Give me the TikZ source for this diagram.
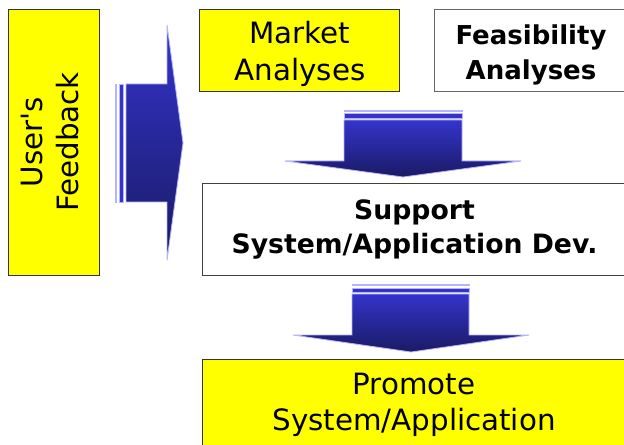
\documentclass[tikz,border=0pt]{standalone}
\usepackage{fontspec}
\setmainfont{DejaVu Sans}
\definecolor{boxyellow}{RGB}{255,255,0}
\definecolor{arrowtop}{RGB}{52,52,204}
\definecolor{arrowbot}{RGB}{26,26,100}
\definecolor{arrowrim}{RGB}{180,180,255}

\begin{document}
\begin{tikzpicture}[x=0.75pt,y=-0.75pt,
    yellowbox/.style={draw=black!80,fill=boxyellow,line width=0.75pt,inner sep=0pt,
      align=center,font=\fontsize{22}{27.5}\selectfont},
    whitebox/.style={draw=black!60,fill=white,line width=0.75pt,inner sep=0pt,
      align=center,font=\fontsize{20}{26}\selectfont\bfseries},
    blockarrow/.style={top color=arrowtop,bottom color=arrowbot,draw=arrowrim,line width=0.6pt},
    stripe/.style={fill=arrowtop,draw=arrowrim,line width=0.6pt}]
    \clip (0,0) rectangle (624,445);
    \fill[white] (0,0) rectangle (624,445);
    \node[yellowbox,minimum width=91*0.75pt,minimum height=265*0.75pt] (feedback) at (53.5,142.5) {};
    \node[rotate=90,align=center,font=\fontsize{22}{26.5}\selectfont] (feedbacktext) at (50,142) {User\textquotesingle s\\Feedback};
    \node[yellowbox,minimum width=200*0.75pt,minimum height=82*0.75pt] (market) at (299.5,51) {};
    \node[align=center,font=\fontsize{22}{27.5}\selectfont] (markettext) at (300,54) {Market\\Analyses};
    \node[whitebox,minimum width=194*0.75pt,minimum height=82*0.75pt] (feasible) at (531,51) {};
    \node[align=center,font=\fontsize{19.5}{26}\selectfont\bfseries] (feasibletext) at (531,55) {Feasibility\\Analyses};
    \node[whitebox,draw=black!75,minimum width=425*0.75pt,minimum height=91*0.75pt] (support) at (414.5,229.5) {Support\\System/Application Dev.};
    \node[yellowbox,minimum width=424*0.75pt,minimum height=87*0.75pt] (promote) at (414,402.5) {};
    \node[align=center,font=\fontsize{22}{27}\selectfont] (promotetext) at (414,404.5) {Promote\\System/Application};
    \draw[stripe] (115,84) rectangle (116.5,202);
    \draw[stripe] (119,84) rectangle (123,202);
    \draw[blockarrow] (126,84) -- (167,84) -- (167,25) -- (183,143) -- (167,260) -- (167,202) -- (126,202) -- cycle;
    \draw[stripe] (344,110) rectangle (462,111.5);
    \draw[stripe] (344,113) rectangle (462,118);
    \draw[blockarrow] (344,120) -- (462,120) -- (462,161) -- (521,161) -- (403,177) -- (285,161) -- (344,161) -- cycle;
    \draw[stripe] (352,284) rectangle (469,285.5);
    \draw[stripe] (352,288) rectangle (469,292);
    \draw[blockarrow] (352,294) -- (469,294) -- (469,335) -- (529,335) -- (411,352) -- (293,335) -- (352,335) -- cycle;
\end{tikzpicture}
\end{document}
